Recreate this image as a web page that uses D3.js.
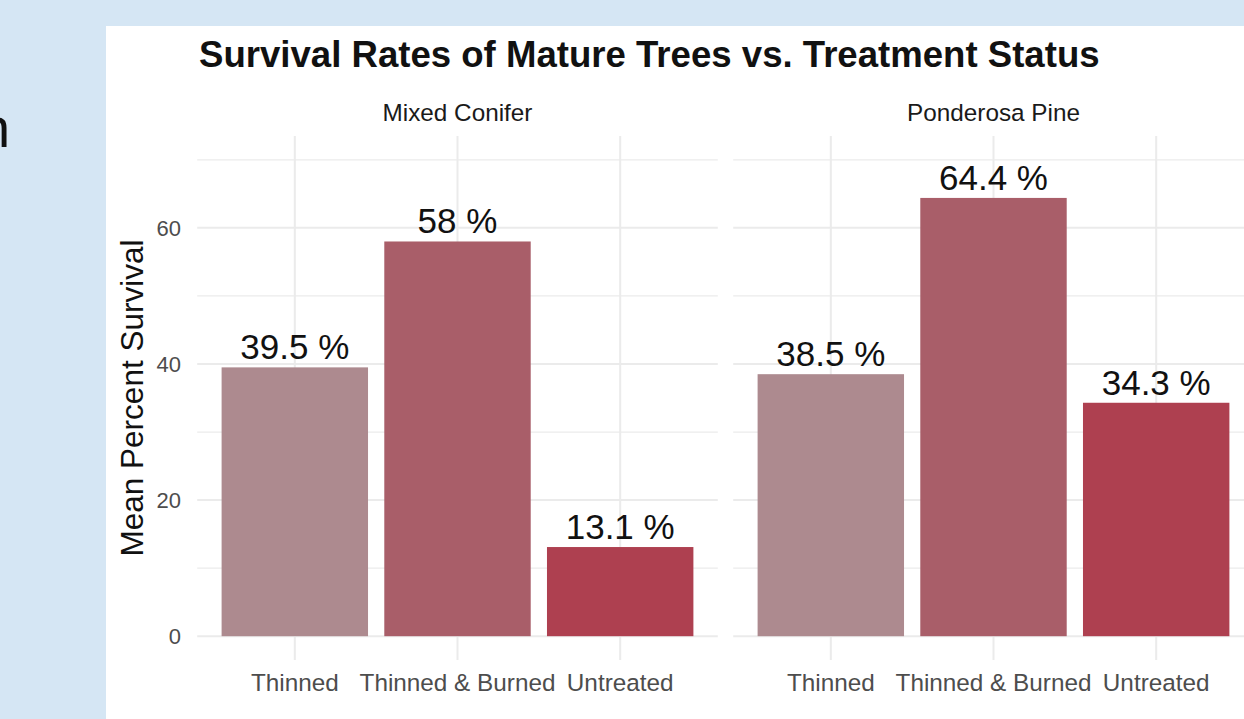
<!DOCTYPE html>
<html><head><meta charset="utf-8">
<script src="https://cdn.jsdelivr.net/npm/d3@7"></script>
<style>body{margin:0;background:#d5e6f4;} svg{display:block;font-family:"Liberation Sans",Arial,sans-serif;}</style>
</head><body>
<svg id="c" width="1244" height="719"></svg>
<script>
const title = "Survival Rates of Mature Trees vs. Treatment Status";
const facets = ["Mixed Conifer", "Ponderosa Pine"];
const categories = ["Thinned", "Thinned & Burned", "Untreated"];
const mixedConifer = [39.5, 58, 13.1];
const ponderosaPine = [38.5, 64.4, 34.3];
const valueLabels = [["39.5 %", "58 %", "13.1 %"], ["38.5 %", "64.4 %", "34.3 %"]];
const yTicks = [0, 20, 40, 60];
const yMinor = [10, 30, 50, 70];
const yTitle = "Mean Percent Survival";
const colors = ["#ad8a8f", "#a95e69", "#ae4050"];

const series = [mixedConifer, ponderosaPine];
const svg = d3.select("#c");
svg.append("rect").attr("x",0).attr("y",0).attr("width",1244).attr("height",719).attr("fill","#d5e6f4");
svg.append("text").attr("x",10).attr("y",147).attr("text-anchor","end").attr("font-size",55).attr("fill","#111").text("n");
svg.append("rect").attr("x",106).attr("y",26).attr("width",1138).attr("height",693).attr("fill","#fff");

svg.append("text").attr("x",199).attr("y",67).attr("font-size",36.6).attr("font-weight","bold").attr("fill","#111").text(title);

const y = d3.scaleLinear().domain([-3.5, 73.5]).range([660, 136]);
const panels = [[197.2, 717.8], [733.2, 1253.8]];
const grid = "#ebebeb";

panels.forEach((r, i) => {
  const x = d3.scaleBand().domain(categories).range(r).paddingInner(0.1).paddingOuter(0.15);
  const g = svg.append("g");
  g.selectAll(".mn").data(yMinor).join("line").attr("x1",r[0]).attr("x2",r[1])
    .attr("y1",d=>y(d)).attr("y2",d=>y(d)).attr("stroke",grid).attr("stroke-width",1.2);
  g.selectAll(".mj").data(yTicks).join("line").attr("x1",r[0]).attr("x2",r[1])
    .attr("y1",d=>y(d)).attr("y2",d=>y(d)).attr("stroke",grid).attr("stroke-width",2);
  g.selectAll(".vg").data(categories).join("line")
    .attr("x1",d=>x(d)+x.bandwidth()/2).attr("x2",d=>x(d)+x.bandwidth()/2)
    .attr("y1",y.range()[1]).attr("y2",y.range()[0]).attr("stroke",grid).attr("stroke-width",2);
  const vals = series[i];
  g.selectAll(".bar").data(categories).join("rect")
    .attr("x",d=>x(d)).attr("width",x.bandwidth())
    .attr("y",(d,j)=>y(vals[j])).attr("height",(d,j)=>y(0)-y(vals[j]))
    .attr("fill",(d,j)=>colors[j]);
  g.selectAll(".lab").data(categories).join("text")
    .attr("x",d=>x(d)+x.bandwidth()/2).attr("y",(d,j)=>y(vals[j])-8)
    .attr("text-anchor","middle").attr("font-size",35).attr("fill","#111")
    .text((d,j)=>valueLabels[i][j]);
  g.selectAll(".xl").data(categories).join("text")
    .attr("x",d=>x(d)+x.bandwidth()/2).attr("y",691)
    .attr("text-anchor","middle").attr("font-size",24.3).attr("fill","#4d4d4d").text(d=>d);
  g.append("text").attr("x",(r[0]+r[1])/2).attr("y",121).attr("text-anchor","middle")
    .attr("font-size",24.3).attr("fill","#1a1a1a").text(facets[i]);
});

svg.selectAll(".yt").data(yTicks).join("text").attr("x",181).attr("y",d=>y(d)+8)
  .attr("text-anchor","end").attr("font-size",22).attr("fill","#4d4d4d").text(d=>d);
svg.append("text").attr("transform","translate(143,398) rotate(-90)").attr("text-anchor","middle")
  .attr("font-size",31.5).attr("fill","#111").text(yTitle);
</script>
</body></html>
